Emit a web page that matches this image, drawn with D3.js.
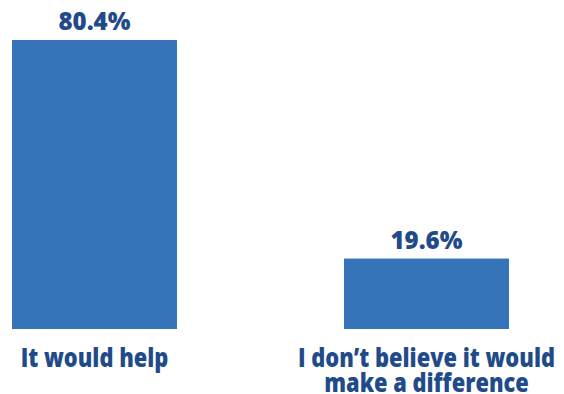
<!DOCTYPE html>
<html>
<head>
<meta charset="utf-8">
<script src="https://cdn.jsdelivr.net/npm/d3@7"></script>
<style>
  html, body { margin: 0; padding: 0; background: #fff; }
  text { font-family: "Open Sans", sans-serif; font-weight: 800; fill: #1f4b8a; }
</style>
</head>
<body>
<div id="chart"></div>
<script>
const categories = ["It would help", "I don\u2019t believe it would\nmake a difference"];
const values = [80.4, 19.6];
const valueLabels = ["80.4%", "19.6%"];

const width = 564, height = 394;
const baseline = 329;
const condense = 0.84;

const svg = d3.select("#chart")
    .append("svg")
    .attr("width", width)
    .attr("height", height);

const x = d3.scaleBand()
    .domain(categories)
    .range([12, 509])
    .paddingInner(0.503)
    .paddingOuter(0);

const y = d3.scaleLinear()
    .domain([0, 80.4])
    .range([baseline, 40]);

svg.selectAll(".bar")
    .data(values)
    .enter()
    .append("rect")
    .attr("class", "bar")
    .attr("x", (d, i) => x(categories[i]))
    .attr("y", d => y(d))
    .attr("width", x.bandwidth())
    .attr("height", d => baseline - y(d))
    .attr("fill", "#3574b9");

svg.selectAll(".label")
    .data(values)
    .enter()
    .append("text")
    .attr("class", "label")
    .attr("x", (d, i) => x(categories[i]) + x.bandwidth() / 2)
    .attr("y", d => y(d) - 10)
    .attr("text-anchor", "middle")
    .style("font-size", "24px")
    .text((d, i) => valueLabels[i]);

// category labels via axis, no line or ticks
const axis = svg.append("g")
    .attr("transform", `translate(0,${baseline})`)
    .call(d3.axisBottom(x).tickSize(0).tickFormat(""));
axis.select(".domain").remove();

axis.selectAll(".tick")
    .append("text")
    .attr("text-anchor", "middle")
    .attr("transform", `scale(${condense},1)`)
    .style("font-size", "26px")
    .each(function (d) {
        const lines = d.split("\n");
        d3.select(this).selectAll("tspan")
            .data(lines)
            .enter()
            .append("tspan")
            .attr("x", 0)
            .attr("y", (l, i) => 38 + i * 25)
            .text(l => l);
    });
</script>
</body>
</html>
